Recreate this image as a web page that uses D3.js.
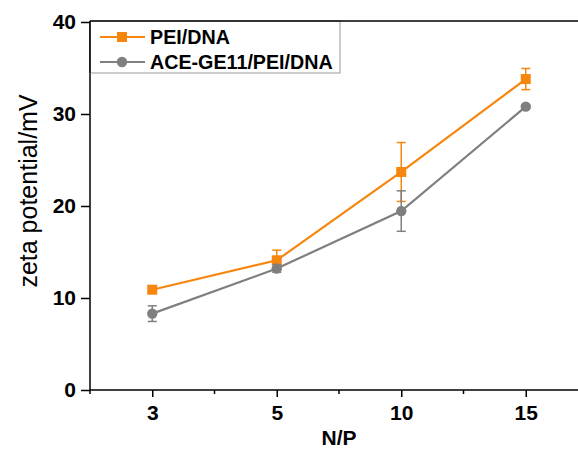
<!DOCTYPE html>
<html lang="en">
<head>
<meta charset="utf-8">
<title>zeta potential</title>
<script src="https://cdn.jsdelivr.net/npm/d3@7"></script>
<style>
  body { margin: 0; background: #fff; }
  text { font-family: Arial, "Liberation Sans", sans-serif; fill: #000; }
</style>
</head>
<body>
<script>
// N/P ratios (categorical x)
var categories = ["3", "5", "10", "15"];

// zeta potential (mV) with error
var peiValues = [10.9, 14.1, 23.7, 33.8];
var peiErrors = [0.3, 1.1, 3.2, 1.15];
var aceValues = [8.3, 13.2, 19.45, 30.8];
var aceErrors = [0.85, 0.4, 2.2, 0.2];

var seriesNames = ["PEI/DNA", "ACE-GE11/PEI/DNA"];
var yTicks = [0, 10, 20, 30, 40];

var w = 578, h = 451;
var orange = "#f7860f", grey = "#7f7f7f";

var svg = d3.select("body").append("svg")
  .attr("width", w)
  .attr("height", h);

// index scale so categories sit evenly with half-step margins
var xScale = d3.scaleLinear().domain([-0.5, 3.5]).range([90, 588]);
var yScale = d3.scaleLinear().domain([0, 40]).range([390, 22]);

var series = [
  { name: seriesNames[0], values: peiValues, errors: peiErrors, color: orange, shape: "square" },
  { name: seriesNames[1], values: aceValues, errors: aceErrors, color: grey, shape: "circle" }
];

// x axis: major ticks at categories, minor between
var xAxis = d3.axisBottom(xScale)
  .tickValues([0, 1, 2, 3])
  .tickFormat(function(i) { return categories[i]; })
  .tickSize(7)
  .tickPadding(8);

var gx = svg.append("g")
  .attr("transform", "translate(0," + yScale(0) + ")")
  .call(xAxis);
gx.select(".domain").remove();
gx.selectAll("text").style("font-size", "21px").style("font-weight", "bold");
gx.selectAll("line").attr("stroke-width", 1.5);

svg.append("g")
  .selectAll("line")
  .data([-0.5, 0.5, 1.5, 2.5])
  .enter().append("line")
  .attr("x1", function(d) { return xScale(d); })
  .attr("x2", function(d) { return xScale(d); })
  .attr("y1", yScale(0))
  .attr("y2", yScale(0) + 4)
  .attr("stroke", "#000")
  .attr("stroke-width", 1.5);

svg.append("line")
  .attr("x1", 90).attr("x2", w)
  .attr("y1", yScale(0)).attr("y2", yScale(0))
  .attr("stroke", "#000").attr("stroke-width", 1.5);

// y axis
var yAxis = d3.axisLeft(yScale)
  .tickValues(yTicks)
  .tickSize(9)
  .tickPadding(5);

var gy = svg.append("g")
  .attr("transform", "translate(90,0)")
  .call(yAxis);
gy.select(".domain").remove();
gy.selectAll("text").style("font-size", "21px").style("font-weight", "bold");
gy.selectAll("line").attr("stroke-width", 1.5);

svg.append("line")
  .attr("x1", 90).attr("x2", 90)
  .attr("y1", 21).attr("y2", yScale(0))
  .attr("stroke", "#000").attr("stroke-width", 1.5);

// axis titles
svg.append("text")
  .attr("x", xScale(1.5))
  .attr("y", 445)
  .attr("text-anchor", "middle")
  .style("font-size", "21px")
  .style("font-weight", "bold")
  .text("N/P");

svg.append("text")
  .attr("transform", "translate(37,191) rotate(-90)")
  .attr("text-anchor", "middle")
  .style("font-size", "25px")
  .text("zeta potential/mV");

// lines, error bars, markers
var line = d3.line()
  .x(function(d, i) { return xScale(i); })
  .y(function(d) { return yScale(d); });

series.forEach(function(s) {
  var g = svg.append("g");

  g.append("path")
    .attr("d", line(s.values))
    .attr("fill", "none")
    .attr("stroke", s.color)
    .attr("stroke-width", 2.2);

  var eb = g.selectAll(".eb")
    .data(s.values)
    .enter().append("g");
  eb.append("line")
    .attr("x1", function(d, i) { return xScale(i); })
    .attr("x2", function(d, i) { return xScale(i); })
    .attr("y1", function(d, i) { return yScale(d - s.errors[i]); })
    .attr("y2", function(d, i) { return yScale(d + s.errors[i]); })
    .attr("stroke", s.color).attr("stroke-width", 1.5);
  [-1, 1].forEach(function(sign) {
    eb.append("line")
      .attr("x1", function(d, i) { return xScale(i) - 4.5; })
      .attr("x2", function(d, i) { return xScale(i) + 4.5; })
      .attr("y1", function(d, i) { return yScale(d + sign * s.errors[i]); })
      .attr("y2", function(d, i) { return yScale(d + sign * s.errors[i]); })
      .attr("stroke", s.color).attr("stroke-width", 1.5);
  });

  g.selectAll(".mk")
    .data(s.values)
    .enter().append("path")
    .attr("transform", function(d, i) { return "translate(" + xScale(i) + "," + yScale(d) + ")"; })
    .attr("d", d3.symbol().type(s.shape === "square" ? d3.symbolSquare : d3.symbolCircle).size(s.shape === "square" ? 100 : 85))
    .attr("fill", s.color);
});

// legend
var legend = svg.append("g");
legend.append("rect")
  .attr("x", 90).attr("y", 21)
  .attr("width", 250).attr("height", 52)
  .attr("fill", "#fff")
  .attr("stroke", "#999").attr("stroke-width", 1);

series.forEach(function(s, i) {
  var ly = 37 + i * 25;
  legend.append("line")
    .attr("x1", 100).attr("x2", 145)
    .attr("y1", ly).attr("y2", ly)
    .attr("stroke", s.color).attr("stroke-width", 2.2);
  legend.append("path")
    .attr("transform", "translate(122," + ly + ")")
    .attr("d", d3.symbol().type(s.shape === "square" ? d3.symbolSquare : d3.symbolCircle).size(s.shape === "square" ? 100 : 85))
    .attr("fill", s.color);
  legend.append("text")
    .attr("x", 150).attr("y", ly + 7)
    .style("font-size", "19.7px")
    .style("font-weight", "bold")
    .text(s.name);
});

// top frame line, drawn over the legend border
svg.append("line")
  .attr("x1", 90).attr("x2", w)
  .attr("y1", 21).attr("y2", 21)
  .attr("stroke", "#000").attr("stroke-width", 1.5);
svg.append("line")
  .attr("x1", 90).attr("x2", 90)
  .attr("y1", 21).attr("y2", 73)
  .attr("stroke", "#000").attr("stroke-width", 1.5);
</script>
</body>
</html>
